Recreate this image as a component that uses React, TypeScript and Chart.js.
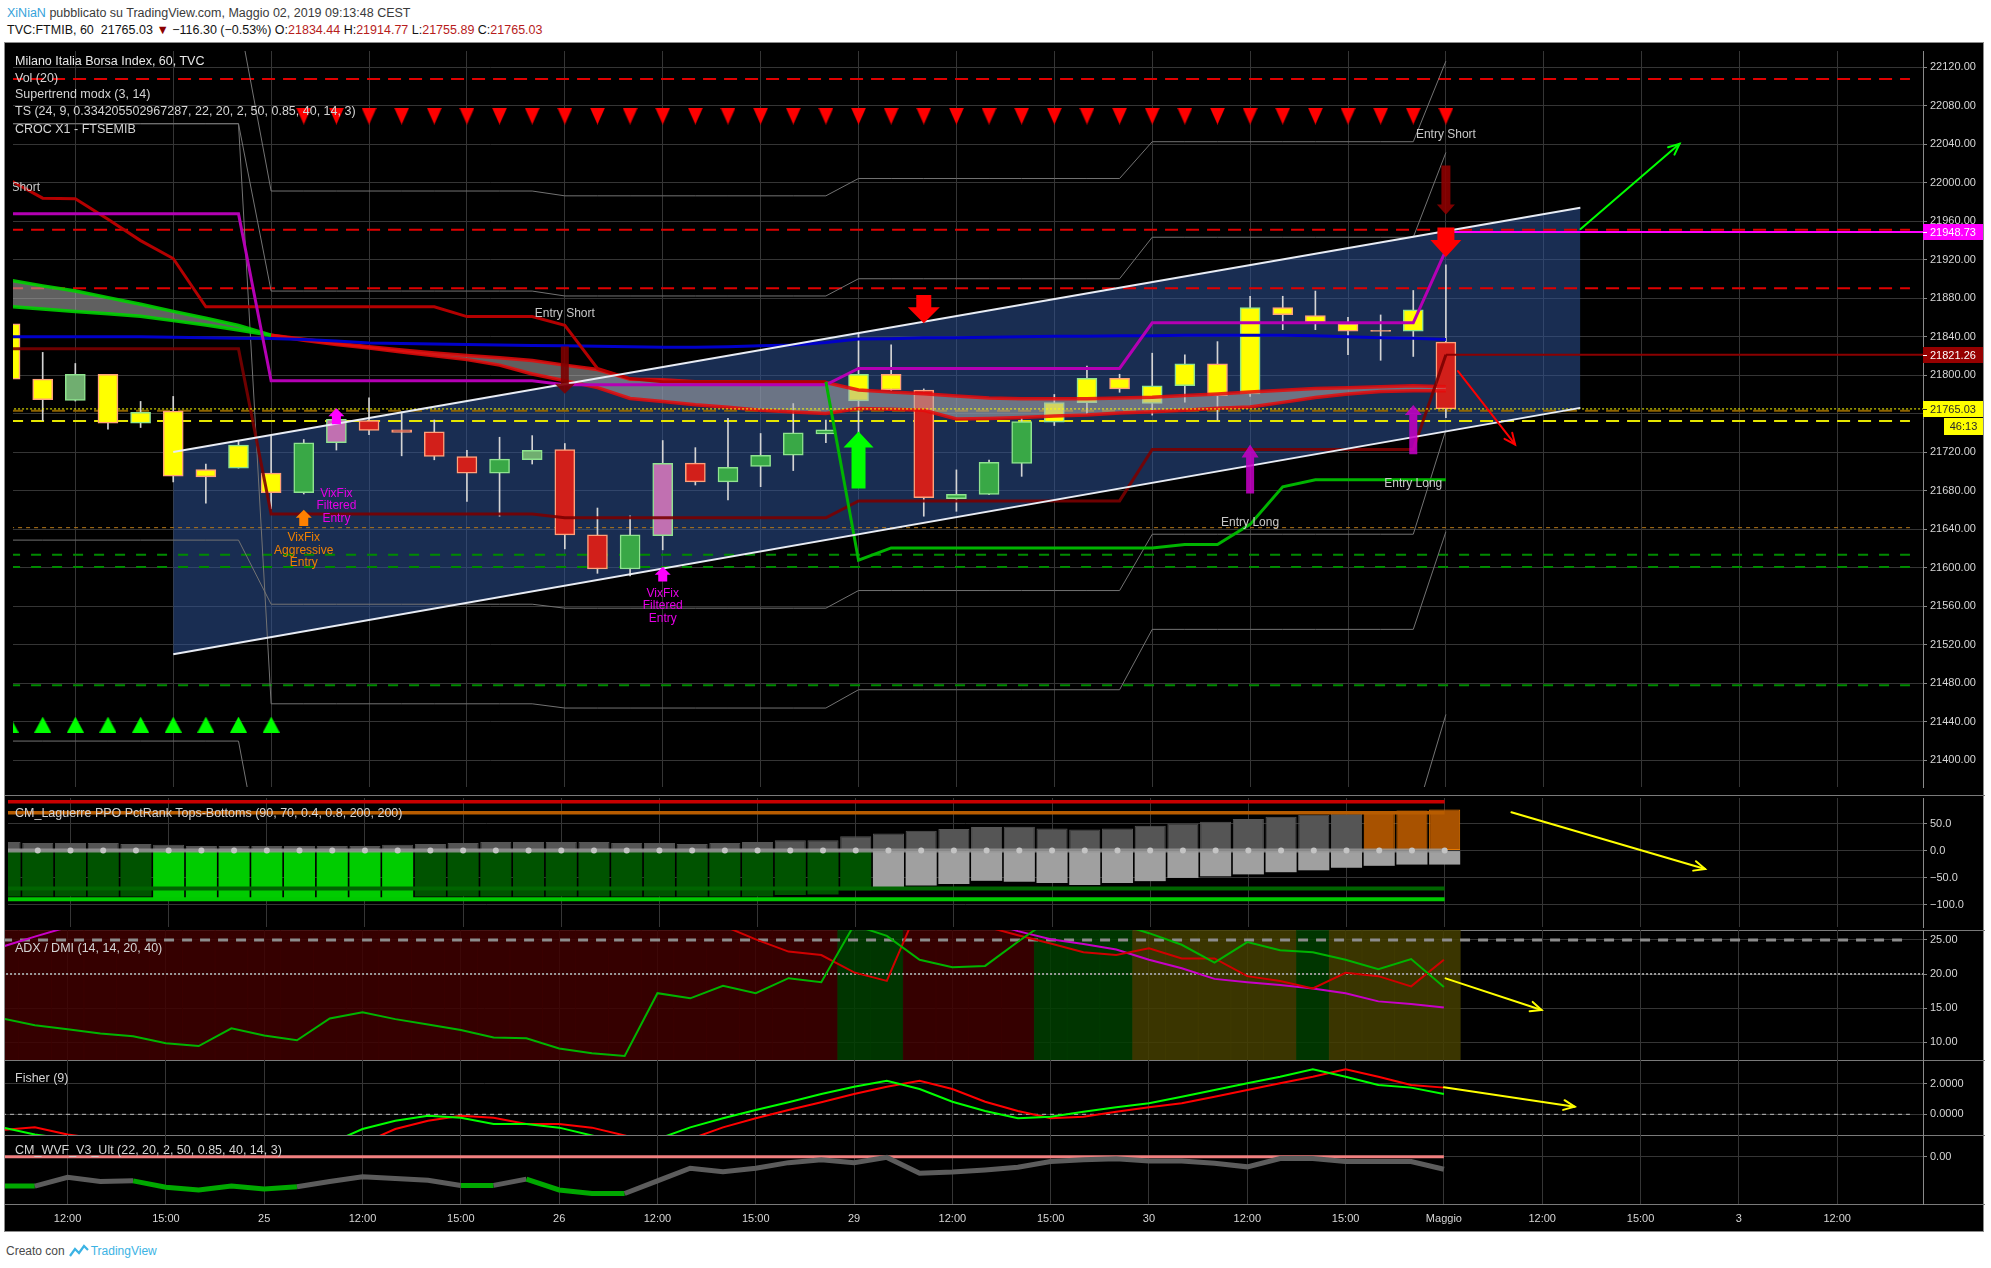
import React, { useEffect, useRef } from "react";
import { Chart, registerables } from "chart.js";

Chart.register(...registerables);

const FONT = "'Liberation Sans', Arial, Helvetica, sans-serif";
Chart.defaults.font.family = FONT;

/* ======================= DATA ======================= */

// hourly bar index (0 = 2 Maggio 09:00)
const BARS = [-44,-43,-42,-41,-40,-39,-38,-37,-36,-35,-34,-33,-32,-31,-30,-29,-28,-27,-26,-25,-24,-23,-22,-21,-20,-19,-18,-17,-16,-15,-14,-13,-12,-11,-10,-9,-8,-7,-6,-5,-4,-3,-2,-1,0];

const X_TICKS = [-42,-39,-36,-33,-30,-27,-24,-21,-18,-15,-12,-9,-6,-3,0,3,6,9,12];
const X_LABELS = ["12:00","15:00","25","12:00","15:00","26","12:00","15:00","29","12:00","15:00","30","12:00","15:00","Maggio","12:00","15:00","3","12:00"];

const MAIN_Y_TICKS = [21400,21440,21480,21520,21560,21600,21640,21680,21720,21760,21800,21840,21880,21920,21960,22000,22040,22080,22120];

const OPEN = [21853.4,21795.9,21773.9,21801.0,21750.2,21762.7,21702.1,21703.5,21698.4,21678.0,21729.9,21752.8,21743.4,21741.1,21715.6,21698.4,21712.2,21722.7,21634.3,21598.8,21633.3,21708.8,21689.2,21705.4,21716.9,21739.0,21773.2,21801.0,21784.7,21671.9,21676.3,21708.5,21751.2,21771.6,21796.9,21770.6,21789.1,21811.8,21780.7,21870.2,21861.9,21853.4,21846.5,21845.7,21834.44];
const HIGH = [21860.0,21823.7,21812.2,21801.0,21772.8,21778.0,21707.8,21731.5,21736.6,21733.2,21764.4,21776.5,21762.0,21753.5,21722.0,21735.6,21737.3,21729.1,21662.1,21653.9,21732.2,21724.8,21755.3,21739.5,21770.6,21753.5,21843.3,21831.5,21785.8,21701.7,21711.8,21755.3,21780.0,21809.5,21801.0,21822.9,21821.3,21834.9,21882.0,21882.0,21887.4,21860.2,21862.6,21888.0,21914.77];
const LOW = [21790.0,21752.8,21773.2,21744.1,21745.7,21689.2,21667.2,21703.5,21661.4,21676.7,21722.3,21738.3,21716.3,21712.2,21668.9,21653.6,21707.8,21619.7,21594.3,21591.7,21618.7,21686.0,21670.6,21684.3,21701.0,21729.9,21720.0,21784.0,21653.6,21658.7,21676.0,21695.0,21747.8,21760.3,21782.3,21758.6,21772.1,21753.5,21778.0,21847.3,21847.3,21821.3,21815.5,21819.5,21755.89];
const CLOSE = [21795.9,21774.6,21801.0,21750.2,21761.4,21695.3,21694.3,21727.5,21678.0,21729.9,21754.3,21742.7,21740.7,21715.6,21698.4,21712.9,21722.0,21634.3,21598.8,21634.3,21708.5,21689.2,21704.4,21716.9,21740.1,21743.4,21801.0,21784.7,21672.9,21676.3,21709.5,21751.8,21771.6,21796.9,21785.8,21789.1,21811.8,21778.9,21870.2,21863.0,21855.2,21845.7,21845.5,21867.8,21765.03];
// bar colouring: Y yellow, R red, G green, M muted green, P pink, S salmon
const CANDLE_KIND = ["YYMYYYYYY","GP","RRRR","GM","RR","GP","R","GGGG","YY","R","GGG","YYYYYYYYYY","S","Y","R"].join("");

// regression channel (bar index, price)
const CHANNEL_X = [-39, 4.12];
const CHANNEL_UP = [21720.3, 21973.9];
const CHANNEL_LO = [21510.2, 21766.1];

// horizontal levels
const RED_LEVELS = [22107.7, 21951.0, 21890.4];
const GREEN_LEVELS = [21613.6, 21600.8, 21478.1];
const YELLOW_DASH_LEVEL = 21752.5;
const BROWN_DASH_LEVEL = 21763.0;
const ORANGE_DOT_LEVEL = 21641.7;
const LAST_PRICE = 21765.03;
const MAGENTA_LEVEL = 21948.73;
const MAROON_LEVEL = 21821.26;

// cloud (two averages)
const CLOUD_A = [21898.6,21892.8,21887.4,21880.6,21873.8,21866.3,21859.2,21851.6,21841.6,21837.4,21833.1,21829.5,21826.2,21823.2,21820.6,21818.1,21815.2,21810.5,21805.9,21795.9,21795.2,21793.2,21793.2,21792.7,21792.7,21792.5,21784.7,21782.5,21780.7,21778.4,21776.4,21775.6,21775.6,21775.6,21776.4,21777.2,21778.9,21780.5,21782.5,21784.5,21786.1,21787.1,21788.1,21789.1,21788.1];
const CLOUD_B = [21871.4,21868.9,21866.3,21863.8,21861.3,21856.7,21852.1,21847.0,21841.6,21836.4,21831.8,21828.2,21824.2,21820.1,21816.2,21810.5,21801.3,21794.2,21787.1,21775.9,21772.8,21769.3,21766.7,21763.7,21761.7,21760.3,21765.4,21764.7,21763.7,21754.5,21755.0,21756.1,21757.6,21758.6,21760.7,21762.0,21763.7,21765.7,21767.1,21771.8,21776.9,21780.5,21783.0,21784.0,21784.0];
const CLOUD_FLIP_BAR = -36;

const BLUE_MA = [21840,21840,21840,21840,21840,21839.5,21839,21838.5,21838.2,21837,21835.5,21833.5,21833,21832.5,21832,21831.5,21831,21830.5,21830,21829.5,21829,21829,21829.5,21830.5,21831.5,21834,21837.6,21838,21839,21839,21839.5,21840,21840.5,21840.5,21841,21841,21841.5,21841.5,21841.6,21841.6,21841,21840,21839,21838.5,21837];

const ST_SHORT = [22002.5,21983.9,21983.2,21961.9,21939.8,21921.2,21871.1,21871.1,21871.1,21871.1,21871.1,21871.1,21871.1,21871.1,21860.9,21860.9,21860.9,21851.8,21807.1,21796.5,21793.2,21793.2,21793.2,21793.2,21793.2,21793.2,null,null,null,null,null,null,null,null,null,null,null,null,null,null,null,null,null,null,null];
const ST_LONG = [null,null,null,null,null,null,null,null,null,null,null,null,null,null,null,null,null,null,null,null,null,null,null,null,null,21793.2,21607.9,21620.7,21620.7,21620.7,21620.7,21620.7,21620.7,21620.7,21620.7,21620.7,21624.2,21624.2,21645.1,21684.1,21691.5,21691.5,21691.5,21691.5,21691.5];

const TS_MAGENTA = [21967.7,21967.7,21967.7,21967.7,21967.7,21967.7,21967.7,21967.7,21794.2,21794.2,21794.2,21794.2,21794.2,21794.2,21794.2,21794.2,21794.2,21790.1,21790.1,21790.1,21790.1,21790.1,21790.1,21790.1,21790.1,21790.1,21807.1,21807.1,21807.1,21807.1,21807.1,21807.1,21807.1,21807.1,21807.1,21854.4,21854.4,21854.4,21854.4,21854.4,21854.4,21854.4,21854.4,21854.4,21930];
const TS_MAROON = [21827.4,21827.4,21827.4,21827.4,21827.4,21827.4,21827.4,21827.4,21656.0,21656.0,21656.0,21656.0,21656.0,21656.0,21656.0,21656.0,21656.0,21651.9,21651.9,21651.9,21651.9,21651.9,21651.9,21651.9,21651.9,21651.9,21669.5,21669.5,21669.5,21669.5,21669.5,21669.5,21669.5,21669.5,21669.5,21723.0,21723.0,21723.0,21723.0,21723.0,21723.0,21723.0,21723.0,21723.0,21821.26];

const BAND_1 = [22173,22173,22173,22173,22173,22173,22173,22173,21991.3,21991.3,21991.3,21991.3,21991.3,21991.3,21991.3,21991.3,21991.3,21986.3,21986.3,21986.3,21986.3,21986.3,21986.3,21986.3,21986.3,21986.3,22004.3,22004.3,22004.3,22004.3,22004.3,22004.3,22004.3,22004.3,22004.3,22042.5,22042.5,22042.5,22042.5,22042.5,22042.5,22042.5,22042.5,22042.5,22126.2];
const BAND_2 = [22061.2,22061.2,22061.2,22061.2,22061.2,22061.2,22061.2,22061.2,21887.4,21887.4,21887.4,21887.4,21887.4,21887.4,21887.4,21887.4,21887.4,21882.3,21882.3,21882.3,21882.3,21882.3,21882.3,21882.3,21882.3,21882.3,21900.2,21900.2,21900.2,21900.2,21900.2,21900.2,21900.2,21900.2,21900.2,21943.3,21943.3,21943.3,21943.3,21943.3,21943.3,21943.3,21943.3,21943.3,22031.3];
const BAND_3 = [21628.8,21628.8,21628.8,21628.8,21628.8,21628.8,21628.8,21628.8,21562.2,21562.2,21562.2,21562.2,21562.2,21562.2,21562.2,21562.2,21562.2,21558.1,21558.1,21558.1,21558.1,21558.1,21558.1,21558.1,21558.1,21558.1,21576.4,21576.4,21576.4,21576.4,21576.4,21576.4,21576.4,21576.4,21576.4,21634.9,21634.9,21634.9,21634.9,21634.9,21634.9,21634.9,21634.9,21634.9,21743.4];
const BAND_4 = [22061.2,22061.2,22061.2,22061.2,22061.2,22061.2,22061.2,22061.2,21458.8,21458.8,21458.8,21458.8,21458.8,21458.8,21458.8,21458.8,21458.8,21454.4,21454.4,21454.4,21454.4,21454.4,21454.4,21454.4,21454.4,21454.4,21473.4,21473.4,21473.4,21473.4,21473.4,21473.4,21473.4,21473.4,21473.4,21536.1,21536.1,21536.1,21536.1,21536.1,21536.1,21536.1,21536.1,21536.1,21637.5];
const BAND_5 = [21420.1,21420.1,21420.1,21420.1,21420.1,21420.1,21420.1,21420.1,21240,21240,21240,21240,21240,21240,21240,21240,21240,21240,21240,21240,21240,21240,21240,21240,21240,21240,21240,21240,21240,21240,21240,21240,21240,21240,21240,21334,21334,21334,21334,21334,21334,21334,21334,21334,21447.7];

// signal markers
const SELL_MARK_BARS = [-35,-34,-33,-32,-31,-30,-29,-28,-27,-26,-25,-24,-23,-22,-21,-20,-19,-18,-17,-16,-15,-14,-13,-12,-11,-10,-9,-8,-7,-6,-5,-4,-3,-2,-1,0];
const SELL_MARK_LEVEL = 22069.2;
const BUY_MARK_BARS = [-44,-43,-42,-41,-40,-39,-38,-37,-36];
const BUY_MARK_LEVEL = 21437.2;

// block arrows (bar, tail price, tip price)
const ARROW_BAR = [-18, -16, 0, 0, -6, -1, -34, -24, -35, -27];
const ARROW_FROM = [21682.4, 21883.3, 22017.8, 21953.4, 21677.3, 21718.0, 21749.2, 21585.7, 21643.5, 21829.8];
const ARROW_TO = [21741.6, 21853.9, 21967.0, 21922.9, 21728.1, 21769.0, 21765.8, 21601.1, 21660.3, 21780.7];

// text labels on the price pane
const TEXT_BAR = [-44, -27, 0, -6, -1, -34, -35, -24];
const TEXT_VAL = [21995.1, 21863.6, 22050.0, 21646.8, 21687.5, 21677.3, 21630.9, 21573.4];
const TEXT_LINES = [["Entry Short"], ["Entry Short"], ["Entry Short"], ["Entry Long"], ["Entry Long"], ["VixFix", "Filtered", "Entry"], ["VixFix", "Aggressive", "Entry"], ["VixFix", "Filtered", "Entry"]];

// hand-drawn projection arrows (bar, value) -> (bar, value)
const PROJ_UP = [4.12, 21951.7, 7.16, 22040.4];
const PROJ_DOWN = [0.37, 21804.3, 2.12, 21728.1];
const LAG_PROJ = [2.04, 70.6, 7.96, -34.1];
const ADX_PROJ = [0.05, 19.38, 2.98, 14.74];
const FISH_PROJ = [0, 1.76, 3.99, 0.5];

// Laguerre PPO PctRank
const LAG_Y_TICKS = [50, 0, -50, -100];
const LAG_UP = [15.9,14.1,14.1,14.1,12.3,10.6,8.5,8.5,8.5,8.5,8.5,8.5,10.6,12.3,14.1,15.9,15.9,15.9,15.9,14.1,14.1,12.3,14.1,15.9,18.8,18.8,26.5,31.7,36.4,40.0,43.5,44.0,40.6,38.8,40.6,45.9,50.0,53.0,58.2,62.3,65.9,68.8,72.3,74.1,75.8];
const LAG_DN = [-85,-85,-85,-85,-85,-92,-92,-92,-92,-92,-92,-92,-92,-85,-85,-85,-85,-85,-85,-85,-85,-85,-85,-85,-82,-81,-73.5,-67.6,-64.7,-61.7,-55.9,-57.6,-60,-63.5,-60,-56.5,-50.6,-47.6,-44,-40,-36.5,-31.7,-28.2,-25.9,-25.9];
const LAG_UP_KIND = ["GGGGGGGGGGGGGGGGGGGGGGGGGGGGGGGGGGGGGGGGGG", "OOO"].join("");
const LAG_DN_KIND = ["DDDDD", "BBBBBBBB", "DDDDDDDDDDDDDD", "LLLLLLLLLLLLLLLLLL"].join("");
const LAG_LEVELS = [90, 70, -70, -90];

// ADX / DMI
const ADX_Y_TICKS = [10, 15, 20, 25];
const ADX_LINE = [13.5,12.5,11.9,11.3,10.9,9.85,9.45,12.05,11.0,10.3,13.5,14.4,13.4,12.6,11.8,10.7,10.6,9.1,8.4,8.0,17.2,16.45,18.3,17.2,19.4,18.8,27.2,25.6,22.1,21.0,21.2,24.75,28.1,29.0,27.5,26.0,24.3,21.7,24.7,23.5,23.2,22.1,20.7,22.2,18.1];
const DI_MINUS = [33,33.5,34,34,34.5,35,35,34.5,34,33.5,33,32.5,32,31.5,31,30.5,30,29.5,29,28.5,28.2,27.8,27.1,25.1,23.3,22.8,20.25,19.0,30.2,29.0,27.0,25.7,24.5,23.2,22.8,23.8,22.3,22.3,19.7,19.0,17.9,20.2,19.7,18.2,22.1];
const DI_PLUS = [24.0,25.5,26.9,28,29,30,31,31.5,32,32,32,31.5,31,30.5,30,30,30.5,31,31,30.5,30,29.5,29,29,29.5,30,30,29.5,29,28.5,27.8,26.3,25.1,24.4,23.6,22.1,20.85,19.3,18.8,18.4,17.9,17.2,16.0,15.6,15.1];
const ADX_STATE = ["RRRRRRRRRRRRRRRRRRRRRRRRRR", "GG", "RRRR", "GGG", "OOOOO", "G", "OOOO"].join("");
const ADX_KEY = 25;
const ADX_MID = 20;

// Fisher (9)
const FISH_Y_TICKS = [2, 0];
const FISHER = [-0.85,-1.32,-1.6,-1.85,-2.0,-2.1,-2.1,-2.0,-1.95,-2.0,-1.9,-0.96,-0.42,-0.09,-0.22,-0.63,-0.63,-0.87,-1.38,-1.9,-1.62,-0.85,-0.26,0.28,0.78,1.32,1.8,2.19,1.65,0.82,0.22,-0.26,-0.16,0.17,0.46,0.72,1.15,1.59,2.02,2.45,2.94,2.45,1.91,1.74,1.32];
const FISHER_TRIGGER = [-1.03,-0.85,-1.32,-1.6,-1.85,-2.0,-2.1,-2.1,-2.0,-1.95,-2.0,-1.9,-0.96,-0.42,-0.09,-0.22,-0.63,-0.63,-0.87,-1.38,-1.9,-1.62,-0.85,-0.26,0.28,0.78,1.32,1.8,2.19,1.65,0.82,0.22,-0.26,-0.16,0.17,0.46,0.72,1.15,1.59,2.02,2.45,2.94,2.45,1.91,1.74];

// CM Williams Vix Fix
const WVF_Y_TICKS = [0];
const WVF = [-8.4,-8.4,-5.9,-7.1,-6.9,-8.7,-9.5,-8.4,-9.2,-8.6,-7.1,-5.7,-6.2,-6.7,-8.2,-8.2,-6.4,-9.5,-10.5,-10.5,-6.9,-3.3,-4.3,-3.3,-1.7,-0.9,-1.7,-0.2,-4.7,-4.4,-3.8,-3.0,-1.4,-0.9,-0.6,-1.2,-1.2,-1.9,-2.9,-0.5,-0.5,-1.4,-1.4,-1.4,-3.6];
const WVF_ALERT = [1,0,0,0,1,1,1,1,1,0,0,0,0,0,1,0,1,1,1,0,0,0,0,0,0,0,0,0,0,0,0,0,0,0,0,0,0,0,0,0,0,0,0,0,0];

/* ======================= LAYOUT / STYLE ======================= */

const X_MIN = -43.91;
const X_MAX = 14.62;
const LEVEL_END = 14.22;
const CANVAS_W = 1980;
const AXIS_W = 62;
const GRID = "#353535";
const AXIS_LINE = "#8a8a8a";
const TICK_TEXT = "#d6d6d6";

const MAIN_RANGE = [21372.4, 22136.7];
const LAG_RANGE = [-141.2, 97.05];
const ADX_RANGE = [7.405, 26.466];
const FISH_RANGE = [-1.35, 3.542];
const WVF_RANGE = [-13.51, 6.2];

const CANDLE_FILL: any = { Y: "#ffff00", R: "#d21f1a", G: "#39a846", M: "#70ae70", P: "#c170b1", S: "#f4a582" };
const UP_EDGE = "#8fe38f";
const DOWN_EDGE = "#ffa07a";

const ARROW_STYLE = [
  { shaft: 14, head: 30, headLen: 16, color: "#00ff00" },
  { shaft: 15, head: 32, headLen: 16, color: "#ff0000" },
  { shaft: 9, head: 18, headLen: 10, color: "rgba(140,0,0,0.9)" },
  { shaft: 17, head: 31, headLen: 17, color: "#ff0000" },
  { shaft: 8, head: 17, headLen: 13, color: "rgba(200,0,200,0.85)" },
  { shaft: 8, head: 17, headLen: 10, color: "rgba(200,0,200,0.85)" },
  { shaft: 9, head: 16, headLen: 8, color: "#ff00ff" },
  { shaft: 9, head: 16, headLen: 8, color: "#ff00ff" },
  { shaft: 9, head: 16, headLen: 8, color: "#ff8000" },
  { shaft: 8, head: 20, headLen: 10, color: "rgba(125,0,0,0.9)" },
];
const TEXT_COLOR = ["#c8c8c8", "#c8c8c8", "#c8c8c8", "#c8c8c8", "#c8c8c8", "#e600e6", "#f08000", "#e600e6"];

/* ======================= HELPERS ======================= */

const ptsOf = (vals: any[]) => BARS.map((b, i) => ({ x: b, y: vals[i] }));
const flat = (x0: number, x1: number, v: number) => [{ x: x0, y: v }, { x: x1, y: v }];

function lineDs(data: any[], color: string, width: number, extra: any = {}) {
  return {
    type: "line",
    data,
    borderColor: color,
    borderWidth: width,
    pointRadius: 0,
    pointHoverRadius: 0,
    tension: 0,
    fill: false,
    spanGaps: false,
    ...extra,
  };
}

function xScale(showLabels: boolean) {
  return {
    type: "linear",
    min: X_MIN,
    max: X_MAX,
    offset: false,
    afterBuildTicks: (s: any) => {
      s.ticks = X_TICKS.map((v) => ({ value: v }));
    },
    afterFit: (s: any) => {
      s.height = showLabels ? 27 : 0;
      s.paddingLeft = 0;
      s.paddingRight = 0;
    },
    grid: { color: GRID, drawTicks: false, offset: false },
    border: { display: false },
    ticks: {
      display: showLabels,
      autoSkip: false,
      maxRotation: 0,
      minRotation: 0,
      padding: 8,
      color: TICK_TEXT,
      font: { family: FONT, size: 11 },
      callback: (v: number) => {
        const i = X_TICKS.indexOf(v);
        return i >= 0 ? X_LABELS[i] : "";
      },
    },
  };
}

function yScale(range: number[], ticks: number[], fmt: (v: number) => string) {
  return {
    type: "linear",
    position: "right",
    min: range[0],
    max: range[1],
    afterBuildTicks: (s: any) => {
      s.ticks = ticks.map((v) => ({ value: v }));
    },
    afterFit: (s: any) => {
      s.width = AXIS_W;
      s.paddingTop = 0;
      s.paddingBottom = 0;
    },
    grid: { color: GRID, drawTicks: true, tickLength: 4, tickColor: AXIS_LINE },
    border: { display: true, color: AXIS_LINE },
    ticks: { autoSkip: false, padding: 3, color: TICK_TEXT, font: { family: FONT, size: 11 }, callback: (v: number) => fmt(v) },
  };
}

const minus = (s: string) => s.replace("-", "\u2212");

function drawDiag(ctx: any, xs: any, ys: any, d: number[], color: string) {
  const x1 = xs.getPixelForValue(d[0]);
  const y1 = ys.getPixelForValue(d[1]);
  const x2 = xs.getPixelForValue(d[2]);
  const y2 = ys.getPixelForValue(d[3]);
  ctx.strokeStyle = color;
  ctx.lineWidth = 2;
  ctx.lineCap = "round";
  ctx.beginPath();
  ctx.moveTo(x1, y1);
  ctx.lineTo(x2, y2);
  ctx.stroke();
  const a = Math.atan2(y2 - y1, x2 - x1);
  const L = 12;
  ctx.beginPath();
  ctx.moveTo(x2 - L * Math.cos(a - 0.42), y2 - L * Math.sin(a - 0.42));
  ctx.lineTo(x2, y2);
  ctx.lineTo(x2 - L * Math.cos(a + 0.42), y2 - L * Math.sin(a + 0.42));
  ctx.stroke();
}

function annot(cfg: any) {
  return {
    id: "annot",
    afterDatasetsDraw(chart: any) {
      const { ctx, chartArea: ca, scales } = chart;
      const xs = scales.x;
      const ys = scales.y;
      ctx.save();
      ctx.beginPath();
      ctx.rect(ca.left, ca.top, ca.right - ca.left, ca.bottom - ca.top);
      ctx.clip();
      if (cfg.blocks) {
        ARROW_BAR.forEach((bar, i) => {
          const st = ARROW_STYLE[i];
          const x = xs.getPixelForValue(bar);
          const y0 = ys.getPixelForValue(ARROW_FROM[i]);
          const y1 = ys.getPixelForValue(ARROW_TO[i]);
          const dir = y1 > y0 ? 1 : -1;
          const yb = y1 - dir * st.headLen;
          ctx.beginPath();
          ctx.moveTo(x - st.shaft / 2, y0);
          ctx.lineTo(x + st.shaft / 2, y0);
          ctx.lineTo(x + st.shaft / 2, yb);
          ctx.lineTo(x + st.head / 2, yb);
          ctx.lineTo(x, y1);
          ctx.lineTo(x - st.head / 2, yb);
          ctx.lineTo(x - st.shaft / 2, yb);
          ctx.closePath();
          ctx.fillStyle = st.color;
          ctx.fill();
        });
      }
      (cfg.diags || []).forEach((d: any) => drawDiag(ctx, xs, ys, d.pts, d.color));
      if (cfg.texts) {
        ctx.font = `12px ${FONT}`;
        ctx.textAlign = "center";
        ctx.textBaseline = "middle";
        TEXT_BAR.forEach((bar, i) => {
          const x = xs.getPixelForValue(bar);
          const y = ys.getPixelForValue(TEXT_VAL[i]);
          ctx.fillStyle = TEXT_COLOR[i];
          TEXT_LINES[i].forEach((s, k) => ctx.fillText(s, x, y + k * 12.5));
        });
      }
      ctx.restore();
    },
    afterDraw(chart: any) {
      if (!cfg.tags) return;
      const { ctx, chartArea: ca, scales } = chart;
      const ys = scales.y;
      ctx.save();
      ctx.font = `11px ${FONT}`;
      ctx.textBaseline = "middle";
      cfg.tags.forEach((t: any) => {
        const y = Math.round(ys.getPixelForValue(t.val));
        ctx.fillStyle = t.bg;
        ctx.fillRect(ca.right, y - 8, 60, 16);
        ctx.fillStyle = t.fg;
        ctx.fillRect(ca.right, y, 4, 1);
        ctx.textAlign = "left";
        ctx.fillText(t.text, ca.right + 7, y + 0.5);
        if (t.countdown) {
          ctx.fillStyle = t.bg;
          ctx.fillRect(ca.right + 21, y + 9, 39, 17);
          ctx.fillStyle = t.fg;
          ctx.textAlign = "center";
          ctx.fillText(t.countdown, ca.right + 40.5, y + 17.5);
        }
      });
      ctx.restore();
    },
  };
}

function baseOptions(y: any, showLabels: boolean) {
  return {
    responsive: false,
    maintainAspectRatio: false,
    animation: false,
    events: [],
    layout: { padding: 0 },
    plugins: { legend: { display: false }, tooltip: { enabled: false } },
    scales: { x: xScale(showLabels), y },
  };
}

function triImg(w: number, h: number, color: string, down: boolean) {
  const c = document.createElement("canvas");
  c.width = w;
  c.height = h;
  const g = c.getContext("2d")!;
  g.fillStyle = color;
  g.beginPath();
  if (down) {
    g.moveTo(0, 0);
    g.lineTo(w, 0);
    g.lineTo(w / 2, h);
  } else {
    g.moveTo(w / 2, 0);
    g.lineTo(w, h);
    g.lineTo(0, h);
  }
  g.closePath();
  g.fill();
  return c;
}

/* ======================= CHART CONFIGS ======================= */

function mainConfig() {
  const kinds = CANDLE_KIND.split("");
  const bodyFill = kinds.map((k) => CANDLE_FILL[k]);
  const bodyEdge = BARS.map((_, i) => (CLOSE[i] >= OPEN[i] ? UP_EDGE : DOWN_EDGE));
  const chanUp = CHANNEL_X.map((x, i) => ({ x, y: CHANNEL_UP[i] }));
  const chanLo = CHANNEL_X.map((x, i) => ({ x, y: CHANNEL_LO[i] }));
  const cloudSeg = (c: any) => (BARS[c.p0DataIndex] < CLOUD_FLIP_BAR ? "rgba(0,210,0,0.9)" : "rgba(230,10,10,0.85)");

  const datasets: any[] = [
    lineDs(chanUp, "rgba(0,0,0,0)", 1, { fill: "+1", backgroundColor: "rgba(46,82,150,0.55)", order: 100 }),
    lineDs(chanLo, "rgba(0,0,0,0)", 1, { order: 99 }),
    ...RED_LEVELS.map((v) => lineDs(flat(-44, LEVEL_END, v), "#e00000", 2, { borderDash: [13, 8], order: 90 })),
    ...GREEN_LEVELS.map((v) => lineDs(flat(-44, LEVEL_END, v), "#008a00", 2, { borderDash: [10, 11], order: 90 })),
    lineDs(flat(-44, LEVEL_END, YELLOW_DASH_LEVEL), "#e6e600", 2, { borderDash: [13, 8], order: 90 }),
    lineDs(flat(-44, LEVEL_END, BROWN_DASH_LEVEL), "rgba(150,105,0,0.95)", 2, { borderDash: [13, 8], order: 90 }),
    lineDs(flat(-44, LEVEL_END, ORANGE_DOT_LEVEL), "#b87a1a", 1, { borderDash: [4, 4], order: 90 }),
    lineDs(ptsOf(BAND_1), "#737373", 1, { order: 85 }),
    lineDs(ptsOf(BAND_2), "#737373", 1, { order: 85 }),
    lineDs(ptsOf(BAND_3), "#737373", 1, { order: 85 }),
    lineDs(ptsOf(BAND_4), "#737373", 1, { order: 85 }),
    lineDs(ptsOf(BAND_5), "#737373", 1, { order: 85 }),
    {
      type: "bar",
      data: BARS.map((b, i) => ({ x: b, y: [LOW[i], HIGH[i]] })),
      backgroundColor: "#d4d4d4",
      barThickness: 1,
      grouped: false,
      order: 80,
    },
    {
      type: "bar",
      data: BARS.map((b, i) => ({ x: b, y: [Math.min(OPEN[i], CLOSE[i]), Math.max(OPEN[i], CLOSE[i])] })),
      backgroundColor: bodyFill,
      borderColor: bodyEdge,
      borderWidth: 1.5,
      borderSkipped: false,
      barThickness: 20,
      grouped: false,
      order: 79,
    },
    lineDs(ptsOf(CLOUD_A), "rgba(230,10,10,0.85)", 3.5, { fill: "+1", backgroundColor: "rgba(175,175,175,0.55)", segment: { borderColor: cloudSeg }, order: 70 }),
    lineDs(ptsOf(CLOUD_B), "rgba(230,10,10,0.85)", 3.5, { segment: { borderColor: cloudSeg }, order: 69 }),
    lineDs(ptsOf(BLUE_MA), "#0000c8", 3, { order: 60 }),
    lineDs(ptsOf(TS_MAROON), "rgba(122,0,0,0.9)", 3, { order: 59 }),
    lineDs(ptsOf(ST_SHORT), "#b40000", 3, { order: 58 }),
    lineDs(ptsOf(TS_MAGENTA), "#b400b4", 3, { order: 57 }),
    lineDs(ptsOf(ST_LONG), "#00b400", 3, { order: 56 }),
    lineDs(flat(0, X_MAX, MAGENTA_LEVEL), "#ff00ff", 2, { order: 55 }),
    lineDs(flat(0, X_MAX, MAROON_LEVEL), "#8b0000", 2, { order: 55 }),
    lineDs(flat(-44, X_MAX, LAST_PRICE), "#ffff00", 1, { borderDash: [2, 2], order: 54 }),
    lineDs(chanUp, "#e8ecf4", 2, { order: 50 }),
    lineDs(chanLo, "#e8ecf4", 2, { order: 50 }),
    lineDs(SELL_MARK_BARS.map((b) => ({ x: b, y: SELL_MARK_LEVEL })), "#ff0000", 0, {
      showLine: false,
      pointRadius: 8,
      pointStyle: triImg(15, 17, "#ff0000", true),
      order: 40,
    }),
    lineDs(BUY_MARK_BARS.map((b) => ({ x: b, y: BUY_MARK_LEVEL })), "#00ff00", 0, {
      showLine: false,
      pointRadius: 8,
      pointStyle: triImg(17, 16, "#00ff00", false),
      order: 40,
    }),
  ];

  return {
    type: "line",
    data: { datasets },
    options: baseOptions(yScale(MAIN_RANGE, MAIN_Y_TICKS, (v) => v.toFixed(2)), false),
    plugins: [
      annot({
        blocks: true,
        texts: true,
        diags: [
          { pts: PROJ_UP, color: "#00ff00" },
          { pts: PROJ_DOWN, color: "#ff0000" },
        ],
        tags: [
          { val: MAGENTA_LEVEL, text: MAGENTA_LEVEL.toFixed(2), bg: "#ff00ff", fg: "#ffffff" },
          { val: MAROON_LEVEL, text: MAROON_LEVEL.toFixed(2), bg: "#960000", fg: "#ffffff" },
          { val: LAST_PRICE, text: LAST_PRICE.toFixed(2), bg: "#ffff00", fg: "#2a2a2a", countdown: "46:13" },
        ],
      }),
    ],
  };
}

function lagConfig() {
  const upFill = LAG_UP_KIND.split("").map((k) => (k === "O" ? "#a85200" : "#555555"));
  const upEdge = LAG_UP_KIND.split("").map((k) => (k === "O" ? "#e87a00" : "#555555"));
  const dnMap: any = { D: "#005300", B: "#00cc00", L: "#a0a0a0" };
  const dnFill = LAG_DN_KIND.split("").map((k) => dnMap[k]);
  const levelStyle = [
    ["#c80000", 3.5],
    ["#b85c00", 3.5],
    ["#006400", 4],
    ["#00c800", 4],
  ];
  const datasets: any[] = [
    {
      type: "bar",
      data: BARS.map((b, i) => ({ x: b, y: [0, LAG_UP[i]] })),
      backgroundColor: upFill,
      borderColor: upEdge,
      borderWidth: 1,
      borderSkipped: false,
      grouped: false,
      barPercentage: 0.95,
      categoryPercentage: 1,
      order: 20,
    },
    {
      type: "bar",
      data: BARS.map((b, i) => ({ x: b, y: [LAG_DN[i], 0] })),
      backgroundColor: dnFill,
      borderWidth: 0,
      grouped: false,
      barPercentage: 0.95,
      categoryPercentage: 1,
      order: 20,
    },
    ...LAG_LEVELS.map((v, i) => lineDs(flat(-44, 0, v), levelStyle[i][0] as string, levelStyle[i][1] as number, { order: 10 })),
    lineDs(ptsOf(BARS.map(() => 0)), "rgba(150,150,150,0.85)", 4, {
      pointRadius: 3,
      pointBackgroundColor: "#c4c4c4",
      pointBorderWidth: 0,
      order: 5,
    }),
  ];
  return {
    type: "line",
    data: { datasets },
    options: baseOptions(yScale(LAG_RANGE, LAG_Y_TICKS, (v) => minus(v.toFixed(1))), false),
    plugins: [annot({ diags: [{ pts: LAG_PROJ, color: "#ffff00" }] })],
  };
}

function adxConfig() {
  const bgMap: any = { R: "rgba(62,0,0,0.85)", G: "rgba(0,62,0,0.85)", O: "rgba(68,62,0,0.85)" };
  const datasets: any[] = [
    {
      type: "bar",
      data: BARS.map((b) => ({ x: b, y: [ADX_RANGE[0], ADX_RANGE[1]] })),
      backgroundColor: ADX_STATE.split("").map((k) => bgMap[k]),
      borderWidth: 0,
      grouped: false,
      barPercentage: 1,
      categoryPercentage: 1,
      order: 30,
    },
    lineDs(flat(-44, LEVEL_END, ADX_KEY), "#8c8c8c", 3, { borderDash: [10, 8], order: 20 }),
    lineDs(flat(-44, X_MAX, ADX_MID), "#9a9a9a", 2, { borderDash: [2, 2], order: 20 }),
    lineDs(ptsOf(DI_PLUS), "#c800c8", 2, { order: 10 }),
    lineDs(ptsOf(DI_MINUS), "#d00000", 2, { order: 9 }),
    lineDs(ptsOf(ADX_LINE), "#00b400", 2, { order: 8 }),
  ];
  return {
    type: "line",
    data: { datasets },
    options: baseOptions(yScale(ADX_RANGE, ADX_Y_TICKS, (v) => v.toFixed(2)), false),
    plugins: [annot({ diags: [{ pts: ADX_PROJ, color: "#ffff00" }] })],
  };
}

function fisherConfig() {
  const datasets: any[] = [
    lineDs(flat(-44, LEVEL_END, 0), "#bdbdbd", 1, { borderDash: [4, 4], order: 20 }),
    lineDs(ptsOf(FISHER_TRIGGER), "#ff0000", 2, { order: 10 }),
    lineDs(ptsOf(FISHER), "#00ff00", 2, { order: 9 }),
  ];
  return {
    type: "line",
    data: { datasets },
    options: baseOptions(yScale(FISH_RANGE, FISH_Y_TICKS, (v) => v.toFixed(4)), false),
    plugins: [annot({ diags: [{ pts: FISH_PROJ, color: "#ffff00" }] })],
  };
}

function wvfConfig() {
  const datasets: any[] = [
    lineDs(flat(-44, 0, 0), "#f08080", 3, { order: 20 }),
    lineDs(ptsOf(WVF), "#5c5c5c", 5, {
      segment: { borderColor: (c: any) => (WVF_ALERT[c.p0DataIndex] ? "#00a800" : "#5c5c5c") },
      order: 10,
    }),
  ];
  return {
    type: "line",
    data: { datasets },
    options: baseOptions(yScale(WVF_RANGE, WVF_Y_TICKS, (v) => v.toFixed(2)), true),
  };
}

/* ======================= COMPONENTS ======================= */

function Panel({ top, height, make }: { top: number; height: number; make: () => any }) {
  const ref = useRef<HTMLCanvasElement>(null);
  useEffect(() => {
    const chart = new Chart(ref.current as any, make());
    return () => chart.destroy();
  }, []);
  return (
    <canvas
      ref={ref}
      width={CANVAS_W}
      height={height}
      style={{ position: "absolute", left: 5, top, width: CANVAS_W, height, display: "block" }}
    />
  );
}

const titleStyle = (top: number, color = "#d4d4d4"): React.CSSProperties => ({
  position: "absolute",
  left: 15,
  top,
  fontSize: 12.5,
  lineHeight: "16px",
  color,
  whiteSpace: "nowrap",
  fontFamily: FONT,
});

const sep = (top: number) => (
  <div key={top} style={{ position: "absolute", left: 5, top, width: CANVAS_W, height: 1, background: "#7a7a7a" }} />
);

export default function App() {
  const red = { color: "#b71c1c" };
  return (
    <div
      style={{
        position: "absolute",
        left: 0,
        top: 0,
        width: 1991,
        height: 1268,
        background: "#ffffff",
        overflow: "hidden",
        fontFamily: FONT,
      }}
    >
      <div style={{ position: "absolute", left: 7, top: 5, fontSize: 12.5, lineHeight: "16px", color: "#3a3a3a", whiteSpace: "nowrap" }}>
        <span style={{ color: "#36a3db" }}>XiNiaN</span> pubblicato su TradingView.com, Maggio 02, 2019 09:13:48 CEST
      </div>
      <div style={{ position: "absolute", left: 7, top: 22, fontSize: 12.5, lineHeight: "16px", color: "#131313", whiteSpace: "nowrap" }}>
        TVC:FTMIB, 60&nbsp; 21765.03 <span style={{ color: "#8b0000" }}>▼</span> −116.30 (−0.53%) O:<span style={red}>21834.44</span> H:
        <span style={red}>21914.77</span> L:<span style={red}>21755.89</span> C:<span style={red}>21765.03</span>
      </div>

      <div style={{ position: "absolute", left: 5, top: 43, width: CANVAS_W - 2, height: 1188, background: "#000", boxShadow: "0 0 0 1px #8c8c8c" }} />
      {[795, 930, 1060, 1135, 1204].map(sep)}

      <Panel top={43} height={752} make={mainConfig} />
      <Panel top={795} height={135} make={lagConfig} />
      <Panel top={930} height={130} make={adxConfig} />
      <Panel top={1060} height={75} make={fisherConfig} />
      <Panel top={1135} height={96} make={wvfConfig} />

      <div style={titleStyle(53, "#e8e8e8")}>Milano Italia Borsa Index, 60, TVC</div>
      <div style={titleStyle(70)}>Vol (20)</div>
      <div style={titleStyle(86)}>Supertrend modx (3, 14)</div>
      <div style={titleStyle(103)}>TS (24, 9, 0.334205502967287, 22, 20, 2, 50, 0.85, 40, 14, 3)</div>
      <div style={titleStyle(121)}>CROC X1 - FTSEMIB</div>
      <div style={titleStyle(805)}>CM_Laguerre PPO PctRank Tops-Bottoms (90, 70, 0.4, 0.8, 200, 200)</div>
      <div style={titleStyle(940)}>ADX / DMI (14, 14, 20, 40)</div>
      <div style={titleStyle(1070)}>Fisher (9)</div>
      <div style={titleStyle(1142)}>CM_WVF_V3_Ult (22, 20, 2, 50, 0.85, 40, 14, 3)</div>

      <div style={{ position: "absolute", left: 6, top: 1243, fontSize: 12, lineHeight: "16px", color: "#4a4a4a", whiteSpace: "nowrap", display: "flex", alignItems: "center" }}>
        <span>Creato con</span>
        <svg width="20" height="14" viewBox="0 0 20 14" style={{ margin: "0 2px 0 4px" }}>
          <path d="M1 12 L6 5 L10 9 L15 2 L19 6" fill="none" stroke="#3bb3e4" strokeWidth="2.2" />
        </svg>
        <span style={{ color: "#3bb3e4" }}>TradingView</span>
      </div>
    </div>
  );
}
